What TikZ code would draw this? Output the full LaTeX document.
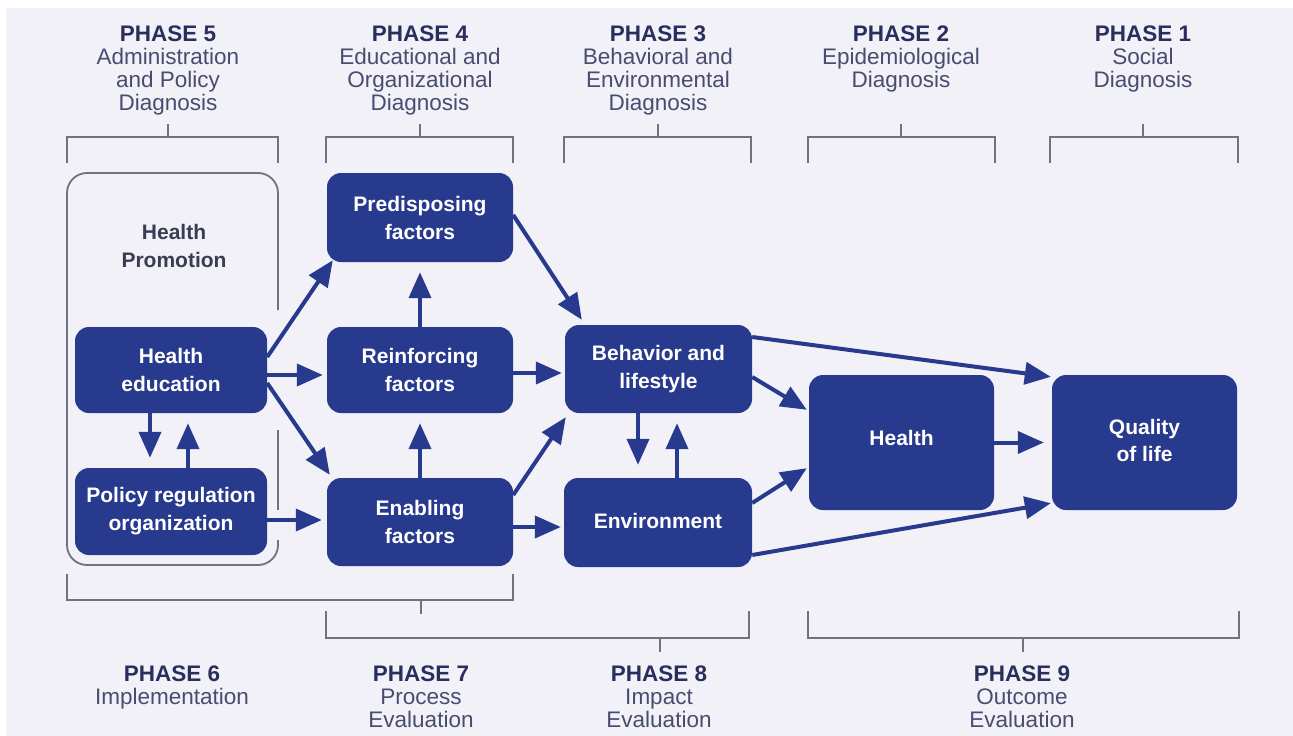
\documentclass[tikz,border=0pt]{standalone}
\usepackage{fontspec}
\setmainfont{Liberation Sans}
\usetikzlibrary{arrows.meta}
\definecolor{bgcol}{RGB}{241,241,247}
\definecolor{boxblue}{RGB}{40,58,142}
\definecolor{phasecol}{RGB}{42,46,92}
\definecolor{subcol}{RGB}{72,76,112}
\definecolor{brk}{RGB}{112,114,130}
\definecolor{hpcol}{RGB}{58,60,84}
\begin{document}
\begin{tikzpicture}[x=1pt,y=-1pt,
  stepbox/.style={fill=boxblue, draw=none, rounded corners=14pt, text=white,
    font=\bfseries\fontsize{21}{28}\selectfont, align=center, inner sep=0pt},
  arr/.style={draw=boxblue, line width=4pt, -{Triangle[length=26pt,width=22pt]}},
  bracket/.style={draw=brk, line width=2pt},
  phasetxt/.style={align=center, anchor=north, inner sep=0pt, text=subcol,
    font=\fontsize{22.5}{23}\selectfont},
  hptxt/.style={align=center, inner sep=0pt, text=hpcol,
    font=\bfseries\fontsize{21}{28}\selectfont}]
\fill[white] (0,0) rectangle (1293,736);
\fill[bgcol] (6,8) rectangle (1293,736);
\useasboundingbox (0,0) rectangle (1293,736);

% top phase labels
\node[phasetxt] (p5) at (168,26) {\textcolor{phasecol}{\bfseries PHASE 5}\\Administration\\and Policy\\Diagnosis};
\node[phasetxt] (p4) at (420,26) {\textcolor{phasecol}{\bfseries PHASE 4}\\Educational and\\Organizational\\Diagnosis};
\node[phasetxt] (p3) at (658,26) {\textcolor{phasecol}{\bfseries PHASE 3}\\Behavioral and\\Environmental\\Diagnosis};
\node[phasetxt] (p2) at (901,26) {\textcolor{phasecol}{\bfseries PHASE 2}\\Epidemiological\\Diagnosis};
\node[phasetxt] (p1) at (1143,26) {\textcolor{phasecol}{\bfseries PHASE 1}\\Social\\Diagnosis};

% top brackets
\draw[bracket] (67,163) -- (67,137) -- (278,137) -- (278,163);
\draw[bracket] (168,137) -- (168,124);
\draw[bracket] (326,163) -- (326,137) -- (513,137) -- (513,163);
\draw[bracket] (420,137) -- (420,124);
\draw[bracket] (564,163) -- (564,137) -- (751,137) -- (751,163);
\draw[bracket] (658,137) -- (658,124);
\draw[bracket] (808,163) -- (808,137) -- (995,137) -- (995,163);
\draw[bracket] (901,137) -- (901,124);
\draw[bracket] (1050,163) -- (1050,137) -- (1238,137) -- (1238,163);
\draw[bracket] (1143,137) -- (1143,124);

% bottom brackets
\draw[bracket] (67,574) -- (67,600) -- (513,600) -- (513,574);
\draw[bracket] (421,600) -- (421,614);
\draw[bracket] (326,611) -- (326,638) -- (749,638) -- (749,611);
\draw[bracket] (660,638) -- (660,652);
\draw[bracket] (808,611) -- (808,638) -- (1239,638) -- (1239,611);
\draw[bracket] (1023,638) -- (1023,652);

% bottom phase labels
\node[phasetxt] (p6) at (172,666) {\textcolor{phasecol}{\bfseries PHASE 6}\\Implementation};
\node[phasetxt] (p7) at (421,666) {\textcolor{phasecol}{\bfseries PHASE 7}\\Process\\Evaluation};
\node[phasetxt] (p8) at (659,666) {\textcolor{phasecol}{\bfseries PHASE 8}\\Impact\\Evaluation};
\node[phasetxt] (p9) at (1022,666) {\textcolor{phasecol}{\bfseries PHASE 9}\\Outcome\\Evaluation};

% health promotion frame
\draw[brk, line width=1.8pt, rounded corners=20pt] (278,310) -- (278,173) -- (67,173) -- (67,565) -- (278,565) -- (278,540);
\draw[brk, line width=1.8pt] (278,430) -- (278,510);
\node[hptxt] (hp) at (174,246) {Health\\Promotion};

% boxes
\node[stepbox, minimum width=192pt, minimum height=86pt] (he) at (171,370) {Health\\education};
\node[stepbox, minimum width=192pt, minimum height=87pt] (po) at (171,511.5) {Policy regulation\\organization};
\node[stepbox, minimum width=186pt, minimum height=89pt] (pre) at (420,217.5) {Predisposing\\factors};
\node[stepbox, minimum width=186pt, minimum height=86pt] (re) at (420,370) {Reinforcing\\factors};
\node[stepbox, minimum width=186pt, minimum height=88pt] (en) at (420,522) {Enabling\\factors};
\node[stepbox, minimum width=187pt, minimum height=88pt] (beh) at (658.5,369) {Behavior and\\lifestyle};
\node[stepbox, minimum width=188pt, minimum height=89pt] (env) at (658,522.5) {\raisebox{3pt}{Environment}};
\node[stepbox, minimum width=185pt, minimum height=135pt] (hl) at (901.5,442.5) {\raisebox{10pt}{Health}};
\node[stepbox, minimum width=185pt, minimum height=135pt] (qol) at (1144.5,442.5) {\raisebox{5pt}{\begin{tabular}{@{}c@{}}Quality\\[-1pt]of life\end{tabular}}};

% connectors
\draw[arr] ([yshift=13pt]he.east) -- ([xshift=6pt,yshift=2pt]pre.south west);
\draw[arr] ([yshift=-5pt]he.east) -- ([xshift=-4pt,yshift=-5pt]re.west);
\draw[arr] ([yshift=-13pt]he.east) -- ([xshift=3pt,yshift=3pt]en.north west);
\draw[arr] ([xshift=-21pt]he.south) -- ([xshift=-21pt,yshift=10pt]po.north);
\draw[arr] ([xshift=17pt]po.north) -- ([xshift=17pt,yshift=-10pt]he.south);
\draw[arr] ([yshift=-8.5pt]po.east) -- ([xshift=-5pt,yshift=-8.5pt]en.west |- po.east);
\draw[arr] (re.north) -- ([yshift=-10pt]pre.south);
\draw[arr] (en.north) -- ([yshift=-10pt]re.south);
\draw[arr] ([yshift=2.5pt]pre.east) -- ([xshift=17pt,yshift=5pt]beh.north west);
\draw[arr] ([yshift=-3pt]re.east) -- ([xshift=-3pt,yshift=-4pt]beh.west);
\draw[arr] ([yshift=27pt]en.east) -- ([xshift=1pt,yshift=-4pt]beh.south west);
\draw[arr] ([yshift=-5pt]en.east) -- ([xshift=-3pt,yshift=-4.5pt]env.west);
\draw[arr] ([xshift=-20.5pt]beh.south) -- ([xshift=-20pt,yshift=13pt]env.north);
\draw[arr] ([xshift=19pt]env.north) -- ([xshift=18.5pt,yshift=-10pt]beh.south);
\draw[arr] ([yshift=32pt]beh.east) -- ([xshift=-1pt,yshift=-2pt]qol.north west);
\draw[arr] ([yshift=-8pt]beh.east) -- ([xshift=-2pt,yshift=-35pt]hl.north west);
\draw[arr] ([yshift=19.5pt]env.east) -- ([xshift=-2pt,yshift=42pt]hl.south west);
\draw[arr] (hl.east) -- ([xshift=-8pt]qol.west);
\draw[arr] ([yshift=-32.5pt]env.east) -- ([xshift=-1pt,yshift=7pt]qol.south west);
\end{tikzpicture}
\end{document}
